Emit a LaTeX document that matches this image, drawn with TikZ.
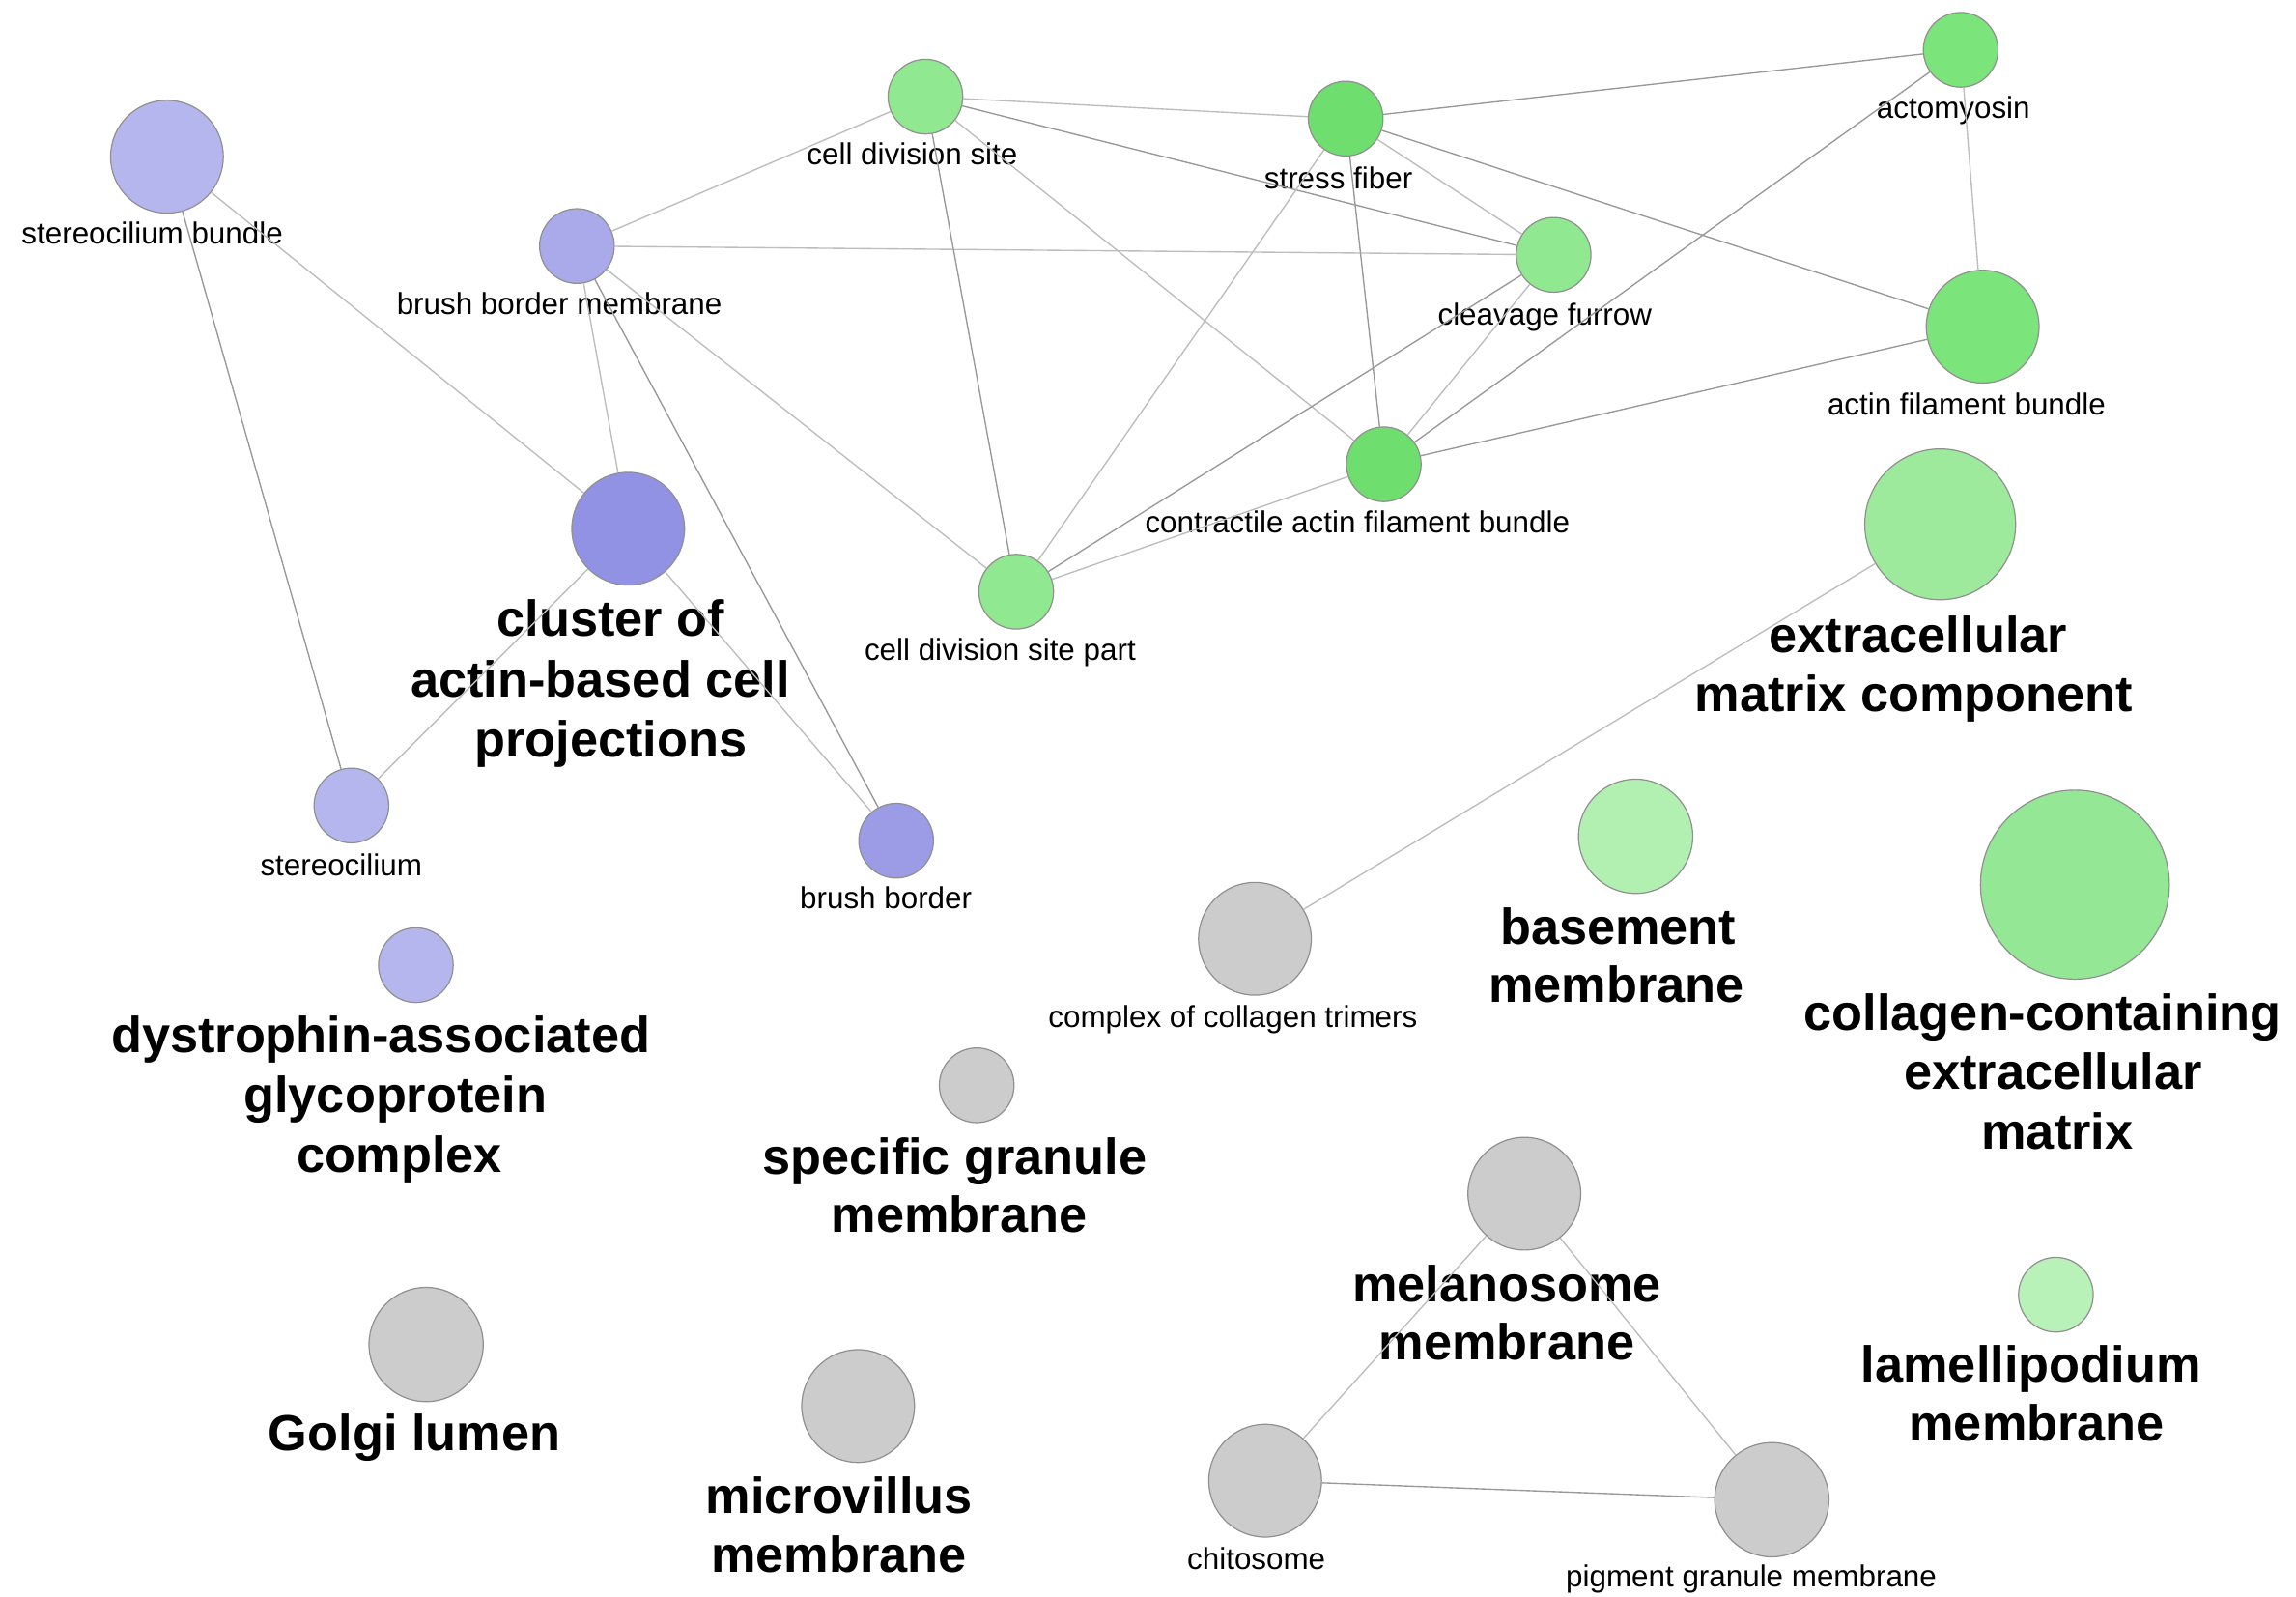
\documentclass[tikz,border=0pt]{standalone}
\usepackage{fontspec}
\setmainfont{Liberation Sans}
\definecolor{bordc}{HTML}{909090}
\definecolor{pA}{HTML}{B6B6EE}
\definecolor{pB}{HTML}{AAAAEA}
\definecolor{pC}{HTML}{9292E4}
\definecolor{pD}{HTML}{9C9CE6}
\definecolor{gA}{HTML}{90E890}
\definecolor{gB}{HTML}{6EDF6E}
\definecolor{gC}{HTML}{7BE47B}
\definecolor{gD}{HTML}{9DEA9D}
\definecolor{gE}{HTML}{B2F0B2}
\definecolor{gF}{HTML}{94E794}
\definecolor{gG}{HTML}{B8F2B8}
\definecolor{grey}{HTML}{CCCCCC}
\definecolor{elight}{HTML}{BDBDBD}
\definecolor{edark}{HTML}{999999}
\tikzset{
  gnode/.style={circle, draw=bordc, line width=0.8pt, inner sep=0pt, minimum size=#1},
  slab/.style={anchor=mid, inner sep=0pt, yshift=-5pt, font=\fontsize{20.7}{24}\selectfont},
  blab/.style={anchor=mid, inner sep=0pt, yshift=-9pt, font=\fontsize{34.5}{40}\selectfont\bfseries},
  elt/.style={draw=elight, line width=0.9pt},
  edk/.style={draw=edark, line width=0.9pt}
}
\begin{document}
\begin{tikzpicture}[x=1pt,y=-1pt]
\useasboundingbox[fill=white] (0,0) rectangle (1568,1090);
% nodes
\node[gnode=77pt, fill=pA] (sb) at (114,107) {};
\node[gnode=51pt, fill=pB] (bbm) at (394,168) {};
\node[gnode=77pt, fill=pC] (cl) at (429,361) {};
\node[gnode=51pt, fill=pA] (st) at (240,550) {};
\node[gnode=51pt, fill=pD] (bb) at (612,574) {};
\node[gnode=51pt, fill=pA] (dag) at (284,659) {};
\node[gnode=51pt, fill=gA] (cds) at (632,66) {};
\node[gnode=51pt, fill=gB] (sf) at (919,81) {};
\node[gnode=51pt, fill=gC] (am) at (1339,34) {};
\node[gnode=51pt, fill=gA] (cf) at (1061,174) {};
\node[gnode=77pt, fill=gC] (afb) at (1354,223) {};
\node[gnode=51pt, fill=gB] (cafb) at (945,317) {};
\node[gnode=51pt, fill=gA] (cdsp) at (694,404) {};
\node[gnode=103pt, fill=gD] (ecm) at (1325,358) {};
\node[gnode=78pt, fill=gE] (bm) at (1117,571) {};
\node[gnode=129pt, fill=gF] (cc) at (1417,604) {};
\node[gnode=51pt, fill=gG] (lm) at (1404,884) {};
\node[gnode=77pt, fill=grey] (cct) at (857,641) {};
\node[gnode=51pt, fill=grey] (sg) at (667,741) {};
\node[gnode=77pt, fill=grey] (mm) at (1041,815) {};
\node[gnode=78pt, fill=grey] (gl) at (291,918) {};
\node[gnode=77pt, fill=grey] (mv) at (586,960) {};
\node[gnode=77pt, fill=grey] (ch) at (864,1011) {};
\node[gnode=78pt, fill=grey] (pg) at (1210,1024) {};
% small labels
\node[slab] (Lsb) at (104,159) {stereocilium bundle};
\node[slab] (Lbbm) at (382,207) {brush border membrane};
\node[slab] (Lst) at (233,590) {stereocilium};
\node[slab] (Lbb) at (605,613) {brush border};
\node[slab] (Lcds) at (623,105) {cell division site};
\node[slab] (Lsf) at (914,121) {stress fiber};
\node[slab] (Lam) at (1334,73) {actomyosin};
\node[slab] (Lcf) at (1055,214) {cleavage furrow};
\node[slab] (Lafb) at (1343,276) {actin filament bundle};
\node[slab] (Lcafb) at (927,356) {contractile actin filament bundle};
\node[slab] (Lcdsp) at (683,443) {cell division site part};
\node[slab] (Lcct) at (842,694) {complex of collagen trimers};
\node[slab] (Lch) at (858,1064) {chitosome};
\node[slab] (Lpg) at (1196,1076) {pigment granule membrane};
% big labels
\node[blab] (Lcl1) at (417,423) {cluster of};
\node[blab] (Lcl2) at (410,464) {actin-based cell};
\node[blab] (Lcl3) at (417,505) {projections};
\node[blab] (Ldag1) at (260,707) {dystrophin-associated};
\node[blab] (Ldag2) at (270,748) {glycoprotein};
\node[blab] (Ldag3) at (273,789) {complex};
\node[blab] (Lecm1) at (1310,434) {extracellular};
\node[blab] (Lecm2) at (1307,474) {matrix component};
\node[blab] (Lbm1) at (1105,633) {basement};
\node[blab] (Lbm2) at (1104,673) {membrane};
\node[blab] (Lcc1) at (1395,692) {collagen-containing};
\node[blab] (Lcc2) at (1402,732) {extracellular};
\node[blab] (Lcc3) at (1405,773) {matrix};
\node[blab] (Llm1) at (1387,932) {lamellipodium};
\node[blab] (Llm2) at (1391,972) {membrane};
\node[blab] (Lsg1) at (652,790) {specific granule};
\node[blab] (Lsg2) at (655,830) {membrane};
\node[blab] (Lmm1) at (1029,877) {melanosome};
\node[blab] (Lmm2) at (1029,917) {membrane};
\node[blab] (Lgl) at (283,979) {Golgi lumen};
\node[blab] (Lmv1) at (573,1022) {microvillus};
\node[blab] (Lmv2) at (573,1062) {membrane};
% edges
\draw[elt] (sb) -- (cl);
\draw[edk] (sb) -- (st);
\draw[elt] (bbm) -- (cds);
\draw[elt] (bbm) -- (cf);
\draw[elt] (bbm) -- (cl);
\draw[edk] (bbm) -- (bb);
\draw[elt] (bbm) -- (cdsp);
\draw[elt] (cl) -- (st);
\draw[elt] (cl) -- (bb);
\draw[elt] (cds) -- (sf);
\draw[edk] (cds) -- (cf);
\draw[edk] (cds) -- (cdsp);
\draw[elt] (cds) -- (cafb);
\draw[edk] (sf) -- (am);
\draw[elt] (sf) -- (cf);
\draw[edk] (sf) -- (afb);
\draw[edk] (sf) -- (cafb);
\draw[elt] (sf) -- (cdsp);
\draw[elt] (am) -- (afb);
\draw[edk] (am) -- (cafb);
\draw[elt] (cf) -- (cafb);
\draw[edk] (cf) -- (cdsp);
\draw[edk] (afb) -- (cafb);
\draw[elt] (cafb) -- (cdsp);
\draw[elt] (ecm) -- (cct);
\draw[elt] (mm) -- (ch);
\draw[elt] (mm) -- (pg);
\draw[edk] (ch) -- (pg);
\end{tikzpicture}
\end{document}
